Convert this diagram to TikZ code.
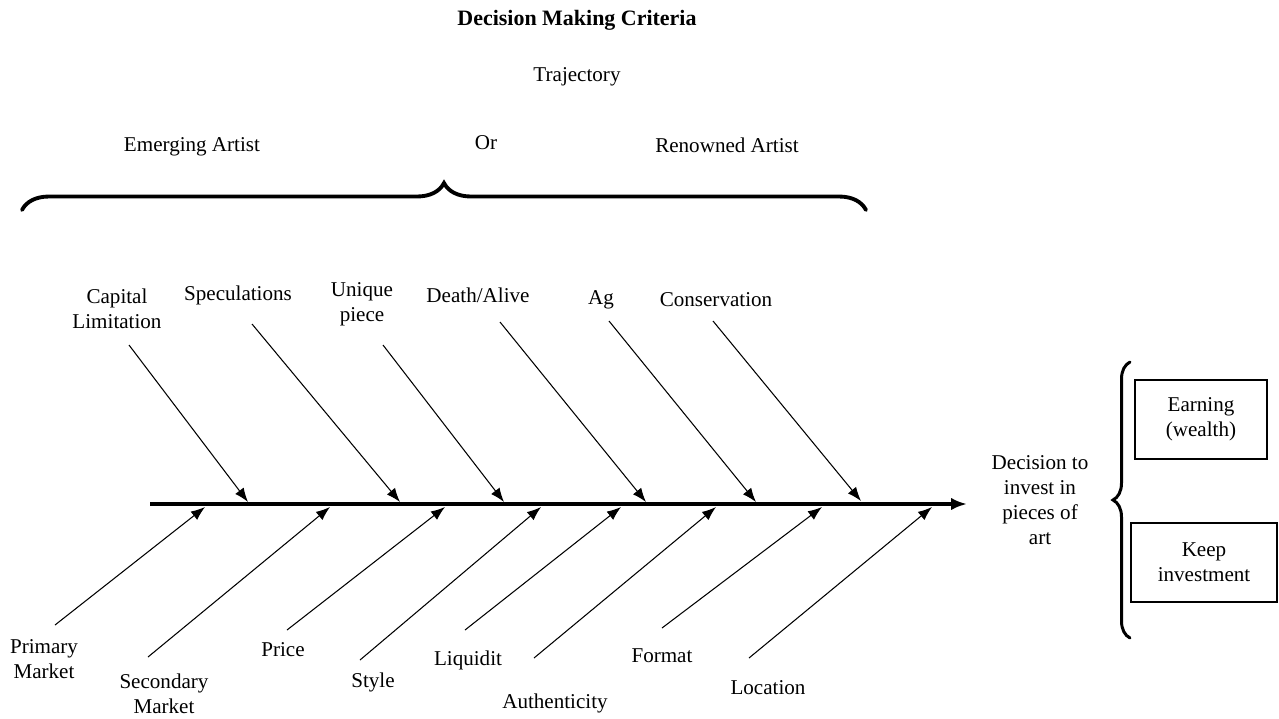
\documentclass[tikz,border=0pt]{standalone}
\usepackage{fontspec}
\setmainfont{Liberation Serif}
\usetikzlibrary{arrows.meta, decorations.pathreplacing}
\tikzstyle{bone}  = [draw, line width=0.6pt, -{Latex[length=8pt, width=6pt]}]
\tikzstyle{spine} = [draw, line width=2pt, -{Latex[length=9pt, width=7pt]}]
\tikzstyle{lbl}   = [align=center, inner sep=0pt, font=\fontsize{12}{14.2}\selectfont]
\tikzstyle{res}   = [draw, line width=1.6pt, align=center, inner sep=0pt, minimum height=1.58cm, font=\fontsize{12}{14.2}\selectfont]
\tikzstyle{curly} = [draw, decorate, line cap=round]

\begin{document}
\begin{tikzpicture}[x=0.02cm, y=-0.02cm]
\useasboundingbox (0,0) rectangle (1279,718);

% headings
\node [lbl, font=\fontsize{12.5}{14.2}\selectfont\bfseries] at (577, 20) (title) {Decision Making Criteria};
\node [lbl] at (577,  77) (traj)     {Trajectory};
\node [lbl] at (192, 147) (emerging) {Emerging Artist};
\node [lbl] at (486, 143) (or)       {Or};
\node [lbl] at (727, 145) (renowned) {Renowned Artist};

% braces
\coordinate (bl) at (22, 210);
\coordinate (br) at (866, 210);
\draw [curly, line width=2.2pt, decoration={brace, amplitude=0.54cm}] (bl) -- (br);
\coordinate (rb) at (1130, 638);
\coordinate (rt) at (1130, 362);
\draw [curly, line width=1.7pt, decoration={brace, amplitude=0.34cm}] (rb) -- (rt);

% spine
\coordinate (spineL) at (150, 504);
\coordinate (spineR) at (967, 504);
\path [spine] (spineL) -- (spineR);

% upper bones
\coordinate (c1) at (129, 345);  \coordinate (e1) at (248, 502);
\coordinate (c2) at (252, 324);  \coordinate (e2) at (400, 502);
\coordinate (c3) at (383, 345);  \coordinate (e3) at (504, 502);
\coordinate (c4) at (500, 322);  \coordinate (e4) at (646, 502);
\coordinate (c5) at (609, 321);  \coordinate (e5) at (756, 502);
\coordinate (c6) at (713, 321);  \coordinate (e6) at (861, 501);

% lower bones
\coordinate (p1) at ( 55, 625);  \coordinate (f1) at (205, 507);
\coordinate (p2) at (148, 657);  \coordinate (f2) at (330, 507);
\coordinate (p3) at (287, 630);  \coordinate (f3) at (445, 507);
\coordinate (p4) at (360, 660);  \coordinate (f4) at (541, 507);
\coordinate (p5) at (465, 630);  \coordinate (f5) at (621, 507);
\coordinate (p6) at (534, 658);  \coordinate (f6) at (716, 507);
\coordinate (p7) at (662, 628);  \coordinate (f7) at (822, 507);
\coordinate (p8) at (749, 658);  \coordinate (f8) at (932, 507);

\path (c1) edge [bone] (e1)  (c2) edge [bone] (e2)  (c3) edge [bone] (e3)
      (c4) edge [bone] (e4)  (c5) edge [bone] (e5)  (c6) edge [bone] (e6)
      (p1) edge [bone] (f1)  (p2) edge [bone] (f2)  (p3) edge [bone] (f3)
      (p4) edge [bone] (f4)  (p5) edge [bone] (f5)  (p6) edge [bone] (f6)
      (p7) edge [bone] (f7)  (p8) edge [bone] (f8);

% causes
\node [lbl] at (117, 309) (capital)  {Capital\\Limitation};
\node [lbl] at (238, 295) (spec)     {Speculations};
\node [lbl] at (362, 304) (unique)   {Unique\\piece};
\node [lbl] at (478, 295) (death)    {Death/Alive};
\node [lbl] at (601, 300) (ag)       {Ag};
\node [lbl] at (716, 300) (conserv)  {Conservation};
\node [lbl] at ( 44, 659) (primary)  {Primary\\Market};
\node [lbl] at (164, 694) (second)   {Secondary\\Market};
\node [lbl] at (283, 650) (price)    {Price};
\node [lbl] at (373, 682) (style)    {Style};
\node [lbl] at (468, 660) (liquid)   {Liquidit};
\node [lbl] at (555, 703) (auth)     {Authenticity};
\node [lbl] at (662, 656) (format)   {Format};
\node [lbl] at (768, 688) (location) {Location};

% effect
\node [lbl] at (1040, 500) (decision) {Decision to\\invest in\\pieces of\\art};
\node [res, minimum width=2.64cm] at (1201, 419.5) (earning) {Earning\\(wealth)};
\node [res, minimum width=2.92cm] at (1204, 562.5) (keep)    {Keep\\investment};

\end{tikzpicture}
\end{document}
